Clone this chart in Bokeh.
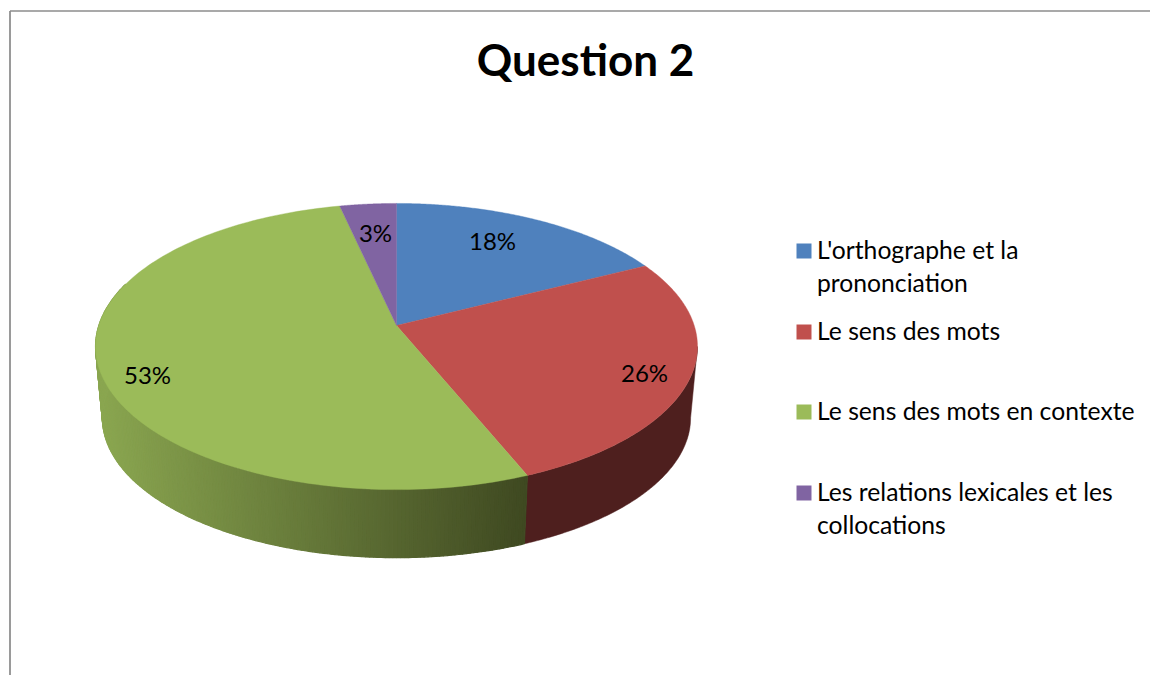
import numpy as np
from bokeh.plotting import figure
from bokeh.models import Range1d
from bokeh.core.properties import value
from bokeh.embed import file_html
from bokeh.resources import INLINE

# --- data ---
title = "Question 2"
categories = ["L'orthographe et la prononciation", "Le sens des mots",
              "Le sens des mots en contexte", "Les relations lexicales et les collocations"]
shares = [17.5, 26.3, 52.7, 3.5]
labels = ["18%", "26%", "53%", "3%"]

# --- style ---
FONT = "Lato"
colors = ["#4F81BD", "#C0504D", "#9BBB59", "#8064A2"]
legend_lines = [["L'orthographe et la", "prononciation"], ["Le sens des mots"],
                ["Le sens des mots en contexte"], ["Les relations lexicales et les", "collocations"]]
legend_box_top = [243, 324, 404, 485]
label_pos = [(492, 240), (644, 372), (147, 374), (375, 232)]
KP = 0.147                          # perspective strength
TOP = dict(cx=396.0, cy=325.0, a=297.7, b=140.0)
BOT = dict(cx=396.0, cy=396.8, a=290.9, b=136.8)


def project(theta, geo, r=1.0):
    u, v = r * np.sin(theta), r * np.cos(theta)
    d = 1 + KP * v
    return geo["cx"] + geo["a"] * u / d, geo["cy"] - geo["b"] * v / d


def mix(c1, c2, t):
    return "#%02x%02x%02x" % tuple(int(round(a + (b - a) * t)) for a, b in zip(c1, c2))


p = figure(width=1150, height=675, output_backend="svg", toolbar_location=None,
           x_range=Range1d(0, 1150), y_range=Range1d(675, 0), min_border=0,
           outline_line_color=None, background_fill_color="white")
p.axis.visible = False
p.grid.visible = False

# chart frame
p.line([9.5, 9.5], [675, 10.5], line_color="#9a9a9a", line_width=2)
p.line([9.5, 1150], [10.5, 10.5], line_color="#8c8c8c", line_width=1.5)

edges = 2 * np.pi * np.concatenate([[0], np.cumsum(shares)]) / sum(shares)

# side wall, red slice: flat dark tone, starting at the widest point of the outline
th = np.linspace(np.arccos(-KP), edges[2], 120)
xt, yt = project(th, TOP)
xb, yb = project(th, BOT)
p.patch(np.r_[xt, xb[::-1]], np.r_[yt, yb[::-1]], fill_color="#4E1F1E", line_color="#4E1F1E", line_width=0.5)

# side wall, green slice: gradient in narrow strips, right end first
th = np.linspace(edges[2], np.pi * 1.6, 200)
xt, yt = project(th, TOP)
xb, yb = project(th, BOT)
x0, x1 = project(edges[2], BOT)[0], BOT["cx"] - BOT["a"]
for i in range(len(th) - 1):
    t = np.clip((xb[i] - x0) / (x1 - x0), 0, 1)
    col = mix((63, 73, 33), (138, 166, 80), t)
    p.patch([xt[i], xt[i + 1], xb[i + 1], xb[i]], [yt[i], yt[i + 1], yb[i + 1], yb[i]],
            fill_color=col, line_color=col, line_width=1.2)

# top face
for i, c in enumerate(colors):
    th = np.linspace(edges[i], edges[i + 1], 160)
    x, y = project(th, TOP)
    p.patch(np.r_[TOP["cx"], x], np.r_[TOP["cy"], y], fill_color=c, line_color=c, line_width=0.4)

# data labels
p.text([q[0] for q in label_pos], [q[1] for q in label_pos], text=labels, text_font=value(FONT),
       text_font_size="24px", text_color="black", text_align="center", text_baseline="middle")

# title
p.text([585], [58], text=[title], text_font=value(FONT), text_font_size="44px",
       text_font_style="bold", text_color="black", text_align="center", text_baseline="middle")

# legend
for c, top, lines in zip(colors, legend_box_top, legend_lines):
    p.quad(left=[796], right=[811], top=[top], bottom=[top + 15], fill_color=c, line_color=None)
    for j, s in enumerate(lines):
        p.text([816.5], [top + 5.5 + j * 33], text=[s], text_font=value(FONT), text_font_size="24.7px",
               text_color="black", text_align="left", text_baseline="middle")

open("out.html", "w").write(file_html(p, INLINE))
